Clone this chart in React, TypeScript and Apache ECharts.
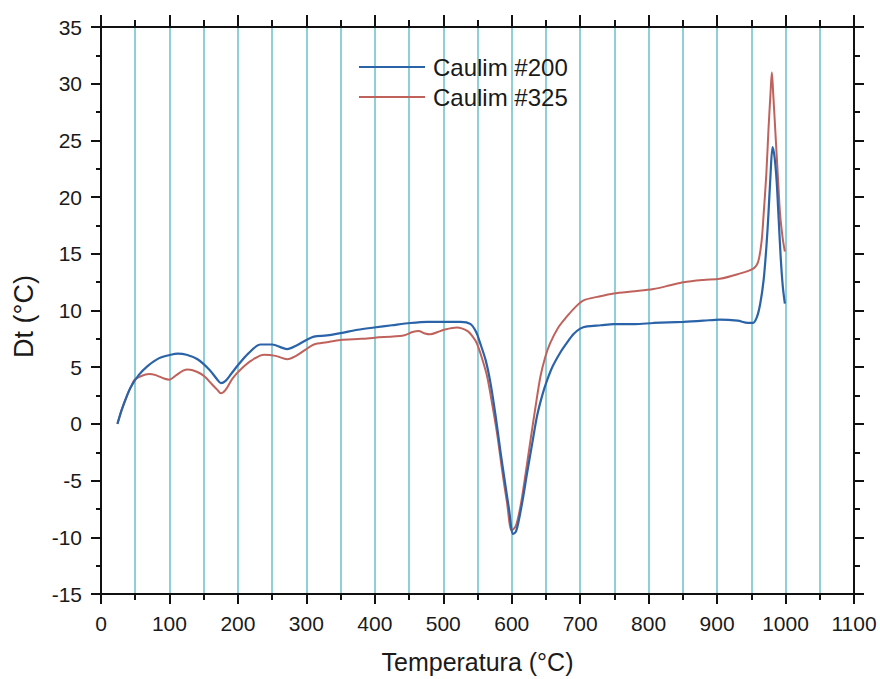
import React, { useEffect, useRef } from "react";
import * as echarts from "echarts";

const seriesNames = ["Caulim #200", "Caulim #325"];

const caulim200: [number, number][] = [
  [24, 0.0], [30, 1.2], [38, 2.5], [44, 3.3], [55, 4.3], [68, 5.1], [85, 5.8], [102, 6.1], [112, 6.2],
  [125, 6.1], [141, 5.7], [158, 4.8], [170, 3.9], [175, 3.6], [182, 3.8], [190, 4.4], [199, 5.1],
  [215, 6.2], [233, 7.0], [250, 7.0], [265, 6.7], [272, 6.6], [285, 6.9], [300, 7.4], [311, 7.7],
  [330, 7.8], [350, 8.0], [375, 8.3], [399, 8.5], [425, 8.7], [452, 8.9], [477, 9.0], [500, 9.0],
  [525, 9.0], [540, 8.8], [548, 8.1], [554, 7.1], [562, 5.6], [569, 3.6], [576, 0.9], [583, -2.2],
  [590, -5.1], [596, -7.5], [602, -9.7], [606, -9.5], [610, -8.6], [616, -6.7], [622, -4.5],
  [630, -1.7], [637, 0.7], [645, 2.6], [652, 3.9], [660, 5.1], [671, 6.3], [680, 7.1], [690, 7.9],
  [700, 8.4], [710, 8.6], [730, 8.7], [749, 8.8], [780, 8.8], [807, 8.9], [851, 9.0], [880, 9.1],
  [904, 9.2], [930, 9.1], [945, 8.9], [952, 8.9], [958, 9.4], [963, 10.6], [968, 12.7], [972, 15.6],
  [975, 18.5], [978, 21.9], [981, 24.4], [984, 23.5], [987, 21.4], [990, 18.0], [993, 14.6],
  [996, 12.1], [999, 10.6],
];

const caulim325: [number, number][] = [
  [24, 0.0], [30, 1.2], [38, 2.5], [44, 3.3], [49, 3.9], [58, 4.2], [70, 4.4], [80, 4.3], [92, 4.0],
  [100, 3.9], [110, 4.3], [120, 4.7], [127, 4.8], [140, 4.6], [151, 4.2], [162, 3.5], [170, 3.0],
  [175, 2.7], [182, 3.0], [192, 4.0], [204, 4.8], [220, 5.6], [238, 6.1], [255, 6.0], [272, 5.7],
  [285, 6.0], [300, 6.6], [311, 7.0], [330, 7.2], [350, 7.4], [380, 7.5], [400, 7.6], [442, 7.8],
  [455, 8.1], [464, 8.2], [472, 8.0], [481, 7.9], [492, 8.1], [501, 8.3], [520, 8.5], [535, 8.2],
  [543, 7.7], [549, 7.1], [556, 5.9], [564, 4.2], [571, 1.9], [579, -1.0], [586, -4.1], [593, -6.9],
  [600, -9.4], [606, -9.0], [613, -7.2], [620, -4.5], [627, -1.6], [635, 1.6], [642, 4.2], [649, 5.9],
  [656, 7.1], [668, 8.5], [681, 9.5], [693, 10.3], [705, 10.9], [725, 11.2], [749, 11.5], [780, 11.7],
  [807, 11.9], [830, 12.2], [851, 12.5], [880, 12.7], [904, 12.8], [930, 13.2], [953, 13.7],
  [960, 14.3], [965, 16.1], [968, 18.5], [972, 22.1], [975, 25.9], [978, 29.1], [980, 31.0],
  [982, 29.1], [985, 25.9], [989, 21.6], [992, 18.5], [996, 16.3], [999, 15.2],
];

const xTitle = "Temperatura (°C)";
const yTitle = "Dt (°C)";

const FONT = "Liberation Sans, Arial, sans-serif";
const TEXT = "#1a1a1a";
const GRIDC = "#74c3cd";

export default function App() {
  const ref = useRef<HTMLDivElement>(null);
  useEffect(() => {
    if (!ref.current) return;
    const chart = echarts.init(ref.current, undefined, { renderer: "svg" });
    const axisLine = { show: true, onZero: false, lineStyle: { color: "#111", width: 2 } };
    const fmt = (v: number) => String(v);
    chart.setOption({
      animation: false,
      backgroundColor: "#fff",
      textStyle: { fontFamily: FONT },
      grid: { left: 101, right: 26, top: 27, bottom: 83, containLabel: false },
      legend: {
        orient: "vertical",
        left: 354,
        top: 50,
        itemWidth: 66,
        itemHeight: 2,
        itemGap: 6,
        icon: "rect",
        data: seriesNames,
        textStyle: { fontSize: 24, color: TEXT, fontFamily: FONT, lineHeight: 24, padding: [0, 0, 0, 3] },
      },
      xAxis: [
        {
          type: "value",
          min: 0,
          max: 1100,
          interval: 100,
          position: "bottom",
          axisLine,
          axisTick: { show: true, inside: false, length: 10, lineStyle: { color: "#111", width: 2 } },
          minorTick: { show: true, splitNumber: 2, length: 6, lineStyle: { color: "#111", width: 2 } },
          splitLine: { show: true, lineStyle: { color: GRIDC, width: 1.6 } },
          minorSplitLine: { show: true, lineStyle: { color: GRIDC, width: 1.6 } },
          axisLabel: { fontSize: 21, color: TEXT, fontFamily: FONT, margin: 19, formatter: fmt },
          name: xTitle,
          nameLocation: "middle",
          nameGap: 55,
          nameTextStyle: { fontSize: 25, color: TEXT, fontFamily: FONT },
        },
        {
          type: "value",
          min: 0,
          max: 1100,
          interval: 100,
          position: "top",
          axisLine,
          axisTick: { show: true, inside: false, length: 12, lineStyle: { color: "#111", width: 2 } },
          minorTick: { show: true, splitNumber: 2, length: 7, lineStyle: { color: "#111", width: 2 } },
          splitLine: { show: false },
          axisLabel: { show: false },
        },
      ],
      yAxis: [
        {
          type: "value",
          min: -15,
          max: 35,
          interval: 5,
          position: "left",
          axisLine,
          axisTick: { show: true, inside: false, length: 10, lineStyle: { color: "#111", width: 2 } },
          minorTick: { show: true, splitNumber: 2, length: 5, lineStyle: { color: "#111", width: 2 } },
          splitLine: { show: false },
          axisLabel: { fontSize: 21, color: TEXT, fontFamily: FONT, margin: 19, formatter: fmt },
          name: yTitle,
          nameLocation: "middle",
          nameGap: 64,
          nameTextStyle: { fontSize: 27, color: TEXT, fontFamily: FONT, padding: [0, 12, 0, 0] },
        },
        {
          type: "value",
          min: -15,
          max: 35,
          interval: 5,
          position: "right",
          axisLine,
          axisTick: { show: true, inside: false, length: 10, lineStyle: { color: "#111", width: 2 } },
          minorTick: { show: true, splitNumber: 2, length: 6, lineStyle: { color: "#111", width: 2 } },
          splitLine: { show: false },
          axisLabel: { show: false },
        },
      ],
      series: [
        {
          name: seriesNames[0],
          type: "line",
          data: caulim200,
          showSymbol: false,
          smooth: 0.3,
          lineStyle: { color: "#2a63a8", width: 2.2 },
          itemStyle: { color: "#2a63a8" },
          z: 3,
        },
        {
          name: seriesNames[1],
          type: "line",
          data: caulim325,
          showSymbol: false,
          smooth: 0.3,
          lineStyle: { color: "#c0625c", width: 2 },
          itemStyle: { color: "#c0625c" },
          z: 2,
        },
      ],
    });
    return () => chart.dispose();
  }, []);
  return (
    <div
      ref={ref}
      style={{ position: "fixed", left: 0, top: 0, width: 880, height: 679, background: "#fff" }}
    />
  );
}
